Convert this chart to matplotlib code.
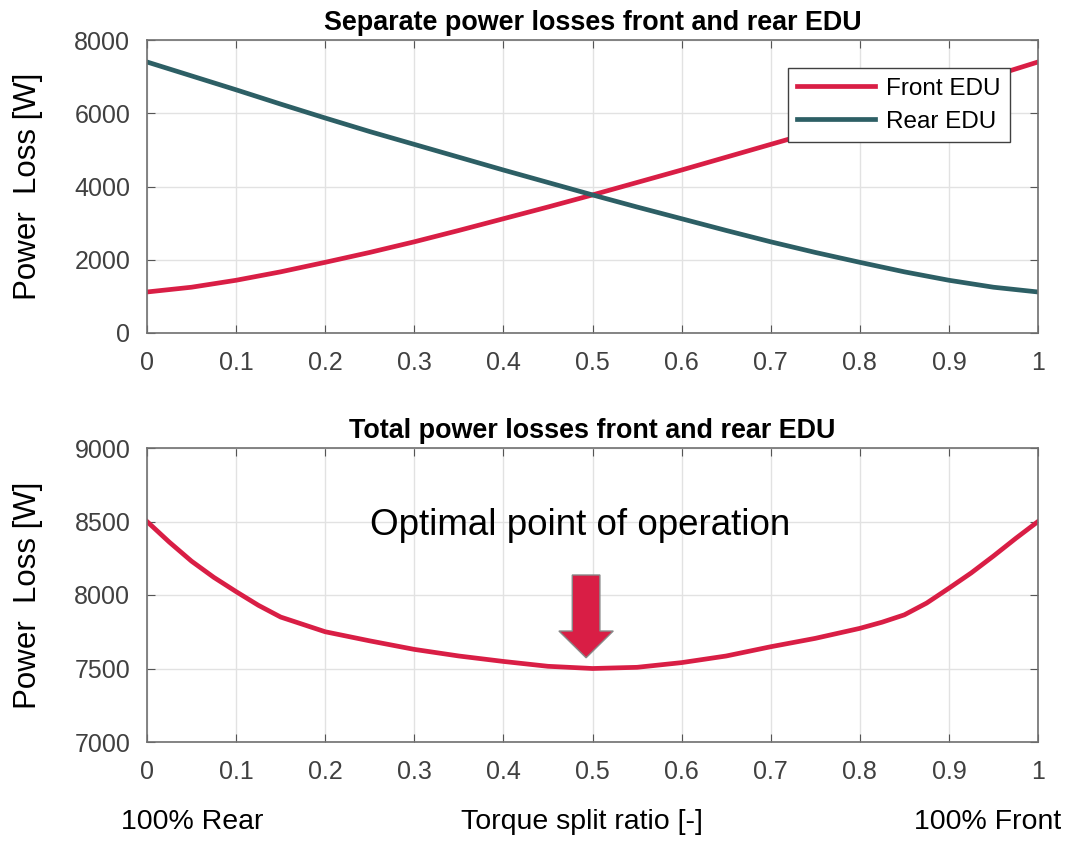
import numpy as np
import matplotlib.pyplot as plt
from matplotlib.patches import FancyArrow

plt.rcParams['font.family'] = ['Liberation Sans', 'DejaVu Sans']

# torque split ratio (0 = all rear, 1 = all front)
split = [0.0, 0.05, 0.1, 0.15, 0.2, 0.25, 0.3, 0.35, 0.4, 0.45, 0.5,
         0.55, 0.6, 0.65, 0.7, 0.75, 0.8, 0.85, 0.9, 0.95, 1.0]

# power losses of each drive unit [W]
loss_front = [1120, 1250, 1440, 1670, 1930, 2200, 2490, 2800, 3120, 3440, 3770,
              4110, 4450, 4800, 5150, 5500, 5870, 6250, 6640, 7020, 7400]
loss_rear = [7400, 7020, 6640, 6250, 5870, 5500, 5150, 4800, 4450, 4110, 3770,
             3440, 3120, 2800, 2490, 2200, 1930, 1670, 1440, 1250, 1120]

# total losses [W], sampled a bit finer near the ends
split_total = [0.0, 0.025, 0.05, 0.075, 0.1, 0.125, 0.15, 0.2, 0.25, 0.3, 0.35,
               0.4, 0.45, 0.5, 0.55, 0.6, 0.65, 0.7, 0.75, 0.8, 0.825, 0.85,
               0.875, 0.9, 0.925, 0.95, 0.975, 1.0]
loss_total = [8500, 8360, 8230, 8120, 8023, 7930, 7850, 7750, 7688, 7630, 7585,
              7548, 7515, 7500, 7508, 7540, 7585, 7648, 7705, 7773, 7815, 7865,
              7945, 8046, 8150, 8265, 8385, 8500]

x_ticks = [0, 0.1, 0.2, 0.3, 0.4, 0.5, 0.6, 0.7, 0.8, 0.9, 1]
x_ticklabels = ['0', '0.1', '0.2', '0.3', '0.4', '0.5', '0.6', '0.7', '0.8', '0.9', '1']

red = '#d91e45'
teal = '#2d5f65'
W, H = 1070, 842

fig = plt.figure(figsize=(W / 100, H / 100), dpi=100)
ax1 = fig.add_axes([147 / W, 1 - 333 / H, 891 / W, 293 / H])
ax2 = fig.add_axes([147 / W, 1 - 742 / H, 891 / W, 294 / H])


def style(ax):
    ax.set_xlim(0, 1)
    ax.set_xticks(x_ticks)
    ax.set_xticklabels(x_ticklabels)
    ax.grid(True, color='#e2e2e2', linewidth=1)
    ax.set_axisbelow(True)
    ax.tick_params(direction='in', top=True, right=True, length=6,
                   color='#555555', labelcolor='#404040', labelsize=18)
    ax.tick_params(axis='x', pad=13)
    ax.tick_params(axis='y', pad=12)
    for s in ax.spines.values():
        s.set_color('#707070')
        s.set_linewidth(1.2)
    ax.set_ylabel('Power  Loss [W]', fontsize=22.5)
    ax.yaxis.set_label_coords(-0.117, 0.5)


ax1.plot(split, loss_front, color=red, lw=3.4, label='Front EDU',
         solid_joinstyle='round')
ax1.plot(split, loss_rear, color=teal, lw=3.4, label='Rear EDU',
         solid_joinstyle='round')
ax1.set_ylim(0, 8000)
ax1.set_yticks([0, 2000, 4000, 6000, 8000])
style(ax1)
ax1.set_title('Separate power losses front and rear EDU', fontsize=19.4,
              fontweight='bold', pad=7)
leg = ax1.legend(loc='upper right', bbox_to_anchor=(0.969, 0.905), fontsize=17.5,
                 fancybox=False, framealpha=1, handlelength=3.2,
                 borderpad=0.4, labelspacing=0.45, handletextpad=0.45,
                 borderaxespad=0)
leg.get_frame().set_edgecolor('#404040')

ax2.plot(split_total, loss_total, color=red, lw=3.4, solid_joinstyle='round')
ax2.set_ylim(7000, 9000)
ax2.set_yticks([7000, 7500, 8000, 8500, 9000])
style(ax2)
ax2.set_title('Total power losses front and rear EDU', fontsize=19.4,
              fontweight='bold', pad=7)

ax2.text(0.486, 8476, 'Optimal point of operation', fontsize=26.5,
         ha='center', va='center')
# block arrow pointing at the minimum
ax2.add_patch(FancyArrow(0.4928, 8136, 0, -563, width=0.031, head_width=0.061,
                         head_length=182, length_includes_head=True,
                         facecolor=red, edgecolor='#888888', lw=1.0, zorder=5))

fig.text(192 / W, 1 - 822 / H, '100% Rear', fontsize=20.5, ha='center', va='center')
fig.text(582 / W, 1 - 822 / H, 'Torque split ratio [-]', fontsize=20.5,
         ha='center', va='center')
fig.text(988 / W, 1 - 822 / H, '100% Front', fontsize=20.5, ha='center', va='center')

fig.savefig('out.png', dpi=100)
